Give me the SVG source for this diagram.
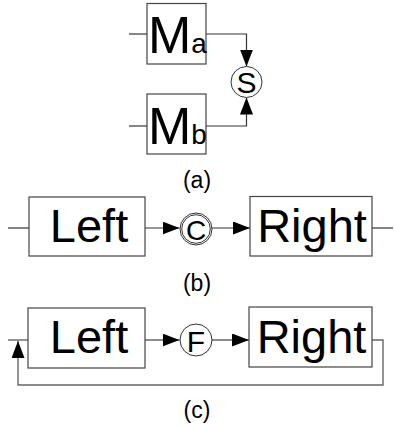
<svg xmlns="http://www.w3.org/2000/svg" width="394" height="425" viewBox="0 0 394 425">
<defs>
<style>
.box{fill:#fff;stroke:#444;stroke-width:1.2}
.ln{fill:none;stroke:#333;stroke-width:1.2}
.lg{fill:none;stroke:#666;stroke-width:1.4}
.circ{fill:#fff;stroke:#333;stroke-width:1}
.t{font-family:"Liberation Sans",Arial,sans-serif;fill:#000}
.big{font-size:47px;text-anchor:middle}
.sym{text-anchor:middle}
.cap{font-size:23px;text-anchor:middle}
</style>
<marker id="ah" markerWidth="17" markerHeight="13" viewBox="0 0 17 13" refX="17" refY="6.5" orient="auto" markerUnits="userSpaceOnUse">
<path d="M0,0 L17,6.5 L0,13 Z" fill="#000"/>
</marker>
</defs>
<g id="connectors">
<line class="ln" x1="129" y1="34" x2="147" y2="34"/>
<polyline class="ln" points="206,34 246.5,34 246.5,66.5" marker-end="url(#ah)"/>
<line class="ln" x1="129" y1="126" x2="147" y2="126"/>
<polyline class="ln" points="206,126 246.5,126 246.5,97.5" marker-end="url(#ah)"/>
<line class="ln" x1="8" y1="228" x2="29" y2="228"/>
<line class="ln" x1="145" y1="228" x2="179.5" y2="228" marker-end="url(#ah)"/>
<line class="ln" x1="212" y1="228" x2="250" y2="228" marker-end="url(#ah)"/>
<line class="ln" x1="372" y1="228" x2="393" y2="228"/>
<line class="lg" x1="8" y1="340" x2="28" y2="340"/>
<line class="lg" x1="145" y1="340" x2="179.5" y2="340" marker-end="url(#ah)"/>
<line class="lg" x1="212" y1="340" x2="249" y2="340" marker-end="url(#ah)"/>
<polyline class="lg" points="372,340 383,340 383,385 18,385 18,341" marker-end="url(#ah)"/>
</g>
<g id="Ma">
<rect class="box" x="147" y="3.5" width="59" height="60.5"/>
<text class="t" x="148" y="53"><tspan font-size="52">M</tspan><tspan font-size="28">a</tspan></text>
</g>
<g id="Mb">
<rect class="box" x="147" y="94" width="59" height="60"/>
<text class="t" x="148" y="144"><tspan font-size="52">M</tspan><tspan font-size="28">b</tspan></text>
</g>
<g id="S">
<circle class="circ" cx="246.5" cy="82" r="15.5"/>
<text class="t sym" x="246.5" y="92.5" font-size="30">S</text>
</g>
<g id="labelA"><text class="t cap" x="197" y="188">(a)</text></g>
<g id="LeftB">
<rect class="box" x="29" y="197" width="116" height="59"/>
<text class="t big" x="89" y="242">Left</text>
</g>
<g id="C">
<circle class="circ" cx="196" cy="229" r="16"/>
<circle class="circ" cx="196" cy="229" r="14.3"/>
<text class="t sym" x="196" y="240" font-size="28">C</text>
</g>
<g id="RightB">
<rect class="box" x="250" y="196.5" width="122" height="59.5"/>
<text class="t big" x="312" y="242">Right</text>
</g>
<g id="labelB"><text class="t cap" x="197" y="291">(b)</text></g>
<g id="LeftC">
<rect class="box" x="28" y="308" width="117" height="60"/>
<text class="t big" x="89" y="353">Left</text>
</g>
<g id="F">
<circle class="circ" cx="196" cy="340" r="16"/>
<text class="t sym" x="196" y="352" font-size="30">F</text>
</g>
<g id="RightC">
<rect class="box" x="249" y="307" width="123" height="60"/>
<text class="t big" x="311.5" y="353">Right</text>
</g>
<g id="labelC"><text class="t cap" x="197" y="418">(c)</text></g>
</svg>
